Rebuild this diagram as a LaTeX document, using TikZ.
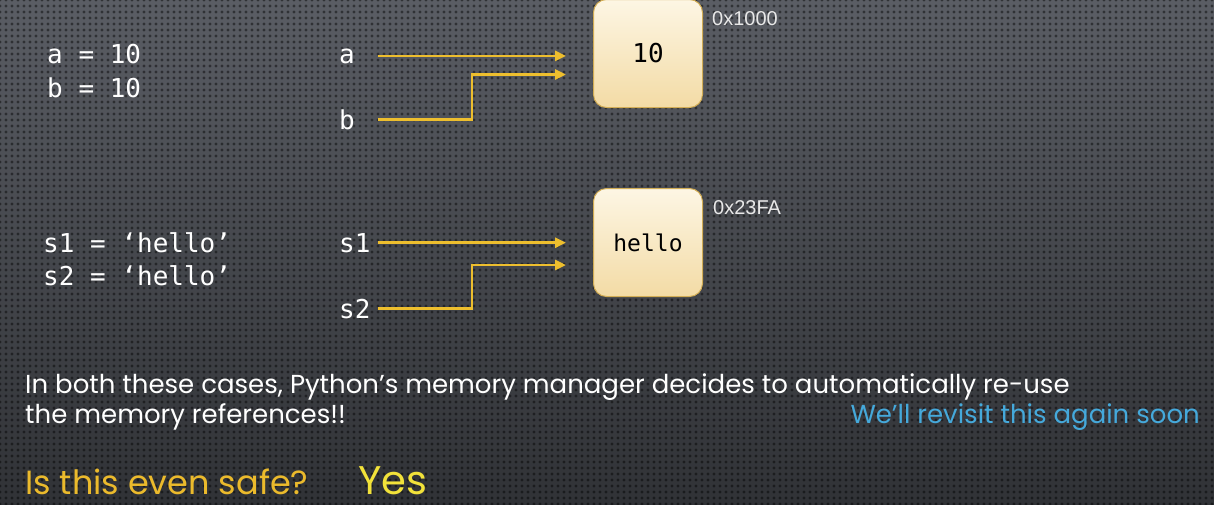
\documentclass[tikz,border=0pt]{standalone}
\usepackage{fontspec}
\setmainfont{Poppins}
\setmonofont{DejaVu Sans Mono}
\newfontfamily\addrfont{Liberation Sans}
\usetikzlibrary{arrows.meta}
\usetikzlibrary{patterns.meta}
\definecolor{bgtop}{HTML}{5A5D64}
\definecolor{bgbot}{HTML}{303236}
\definecolor{refline}{HTML}{EDBE2E}
\definecolor{cellfill}{HTML}{FDF6E4}
\definecolor{cellshade}{HTML}{F3DBA5}
\definecolor{celledge}{HTML}{D2AD55}
\definecolor{soon}{HTML}{45A9DB}
\definecolor{safe}{HTML}{EBBA2C}
\definecolor{yes}{HTML}{F2E23A}
\definecolor{addr}{HTML}{E8E8E8}

\begin{document}
\begin{tikzpicture}[x=1pt,y=-1pt,
  code/.style={anchor=base west,inner sep=0pt,text=white,font=\ttfamily\fontsize{26}{30}\selectfont},
  cell/.style={draw=celledge,line width=1pt,rounded corners=13pt,top color=cellfill,bottom color=cellshade,
    minimum width=109pt,minimum height=108pt,inner sep=0pt,font=\ttfamily\fontsize{26}{30}\selectfont},
  addr/.style={anchor=base west,inner sep=0pt,text=addr,font=\addrfont\fontsize{20}{22}\selectfont},
  ref/.style={draw=refline,line width=2.8pt,-{Triangle[length=11pt,width=10pt]}},
  say/.style={anchor=base west,inner sep=0pt,font=\fontsize{26}{30}\selectfont}]
\useasboundingbox (0,0) rectangle (1214,504);
\fill[top color=bgtop,bottom color=bgbot] (0,0) rectangle (1214,504);
\fill[pattern={Dots[distance=6pt,radius=1.6pt]},pattern color=black,fill opacity=0.45] (0,0) rectangle (1214,504);

% ints
\node[code] (ca) at (47,63) {a = 10};
\node[code] (cb) at (47,97) {b = 10};
\node[code] (va) at (339,63) {a};
\node[code] (vb) at (339,129) {b};
\node[cell] (ten) at (648,53.5) {10};
\node[addr] (m1) at (712,25) {0x1000};
\draw[ref] ([xshift=23pt]va.east) -- ([xshift=-27pt]va.east -| ten.west);
\draw[ref] ([xshift=23pt]vb.east) -| ([xshift=-121pt,yshift=-21pt]ten.west) -- ([xshift=-27pt,yshift=-21pt]ten.west);

% strings
\node[code] (cs1) at (43,252) {s1 = ‘hello’};
\node[code] (cs2) at (43,285) {s2 = ‘hello’};
\node[code] (vs1) at (339,252) {s1};
\node[code] (vs2) at (339,318) {s2};
\node[cell,font=\ttfamily\fontsize{23}{28}\selectfont] (hi) at (648,242.5) {hello};
\node[addr] (m2) at (713,214) {0x23FA};
\draw[ref] ([xshift=7pt]vs1.east) -- ([xshift=-27pt]vs1.east -| hi.west);
\draw[ref] ([xshift=7pt]vs2.east) -| ([xshift=-121pt,yshift=-22.5pt]hi.west) -- ([xshift=-27pt,yshift=-22.5pt]hi.west);

\node[say,text=white] (l1) at (25,393) {In both these cases, Python’s memory manager decides to automatically re-use};
\node[say,text=white] (l2) at (25,423) {the memory references!!};
\node[say,text=soon,anchor=base east] (soon) at (1200,423) {We’ll revisit this again soon};
\node[say,text=safe,font=\fontsize{33.5}{36}\selectfont] (q) at (25,494) {Is this even safe?};
\node[say,text=yes,font=\fontsize{40}{44}\selectfont] (yes) at (358,494) {Yes};
\end{tikzpicture}
\end{document}
